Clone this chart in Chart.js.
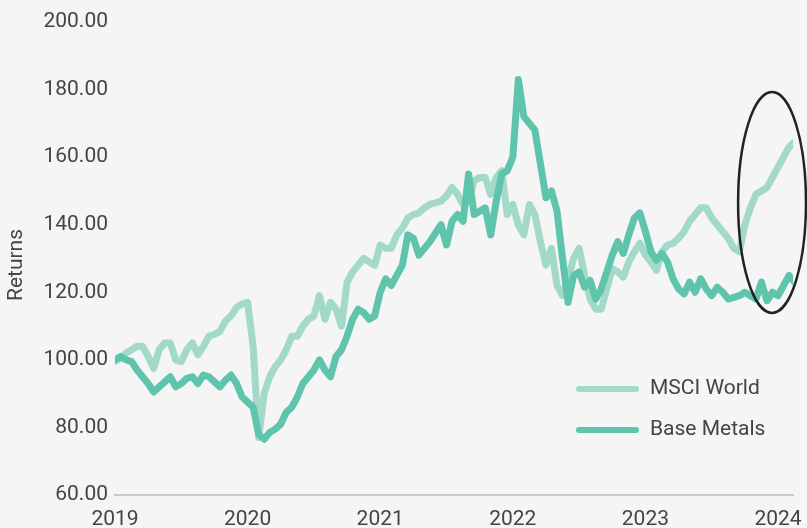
<!DOCTYPE html>
<html>
<head>
<meta charset="utf-8">
<script src="https://cdn.jsdelivr.net/npm/chart.js@4/dist/chart.umd.min.js"></script>
<style>
  html, body { margin: 0; padding: 0; background: #f5f5f5; }
  #wrap { width: 807px; height: 528px; position: relative; }
</style>
</head>
<body>
<div id="wrap"><canvas id="returnsChart"></canvas></div>
<script>
// -------------------- Data --------------------
// one reading every half month, starting January 2019
const startYear = 2019;
const pointsPerYear = 24;

const yearTicks = [2019, 2020, 2021, 2022, 2023, 2024];
const returnTicks = [60, 80, 100, 120, 140, 160, 180, 200];
const yAxisTitle = "Returns";

const msciWorld = [
  99.5, 100.5, 102, 103, 104, 104, 101, 97.5, 103, 105, 105, 100,
  99.5, 103, 105, 101.5, 104, 107, 107.5, 108.5, 111.5, 113, 115.5, 116.5,
  117, 104, 77, 90, 95, 98, 100, 103, 107, 107, 110, 112,
  113, 119, 112, 117, 115, 110, 123, 126, 128, 130, 129, 128,
  134, 133, 133, 137, 139, 142, 143, 143.5, 145, 146, 146.5, 147,
  148.5, 151, 149, 146, 147, 153, 154, 154, 149, 154, 156, 143,
  146, 140, 137, 146, 143, 135, 128, 133, 122, 119, 124, 130,
  133, 125, 118, 115, 115, 121, 127, 126, 124.5, 129, 132, 134.5,
  131, 129, 126.5, 132, 134, 134.5, 136, 138, 141, 143, 145, 145,
  142, 140, 138, 136, 133, 132, 140, 145, 149, 150, 151, 154,
  157, 160, 163, 164.5
];

const baseMetals = [
  100, 101, 100, 99.5, 97, 95, 93, 90.5, 92, 93.5, 95, 92,
  93, 94.5, 95, 93, 95.5, 95, 93.5, 92, 94, 95.5, 93, 89,
  87.5, 86, 78, 76.5, 78.5, 79.5, 81, 84.5, 86, 89, 93, 95,
  97, 100, 97, 95, 101, 103, 107, 112, 115, 114, 112, 113,
  120, 124, 122, 125, 128, 137, 136, 131, 133, 135, 137.5, 140,
  134, 141, 143, 141, 155, 143, 144, 145, 137, 147, 155, 156,
  160, 183, 172, 170, 168, 158, 148, 150, 144, 130, 117, 125,
  126, 121.5, 123.5, 118, 121, 126, 131, 135, 131.5, 137, 142, 143.5,
  138, 132, 129.5, 131.5, 129, 124, 121, 119.5, 123, 120, 124, 121,
  119, 121.5, 120, 118, 118.5, 119, 120, 119, 118, 123, 117.5, 120,
  119, 122, 125, 123
];

// highlighted zone at the end of the series (in data units)
const highlightCenter = { x: 2023.955, y: 146.6 };
const highlightRadius = { x: 0.256, y: 32.7 };

// -------------------- Helpers --------------------
function toPoints(values) {
  return values.map((v, i) => ({ x: startYear + i / pointsPerYear, y: v }));
}

const textColor = "#444444";
const fontFamily = "Roboto, 'Noto Sans', sans-serif";

// -------------------- Plugins --------------------
const backgroundPlugin = {
  id: "background",
  beforeDraw(chart) {
    const ctx = chart.ctx;
    ctx.save();
    ctx.fillStyle = "#f5f5f5";
    ctx.fillRect(0, 0, chart.width, chart.height);
    ctx.restore();
  }
};

const axisTitlePlugin = {
  id: "axisTitle",
  afterDraw(chart) {
    const ctx = chart.ctx;
    ctx.save();
    ctx.translate(17, 265);
    ctx.rotate(-Math.PI / 2);
    ctx.font = "21px " + fontFamily;
    ctx.fillStyle = textColor;
    ctx.textAlign = "center";
    ctx.textBaseline = "middle";
    ctx.fillText(yAxisTitle, 0, 0);
    ctx.restore();
  }
};

const ellipsePlugin = {
  id: "highlightEllipse",
  afterDatasetsDraw(chart) {
    const x = chart.scales.x, y = chart.scales.y;
    const cx = x.getPixelForValue(highlightCenter.x);
    const cy = y.getPixelForValue(highlightCenter.y);
    const rx = Math.abs(x.getPixelForValue(highlightCenter.x + highlightRadius.x) - cx);
    const ry = Math.abs(y.getPixelForValue(highlightCenter.y + highlightRadius.y) - cy);
    const ctx = chart.ctx;
    ctx.save();
    ctx.beginPath();
    ctx.ellipse(cx, cy, rx, ry, 0, 0, Math.PI * 2);
    ctx.strokeStyle = "#222222";
    ctx.lineWidth = 2.5;
    ctx.stroke();
    ctx.restore();
  }
};

const legendPlugin = {
  id: "insideLegend",
  afterDraw(chart) {
    const ctx = chart.ctx;
    const rows = [389, 430];
    ctx.save();
    ctx.font = "21px " + fontFamily;
    ctx.textBaseline = "middle";
    ctx.lineCap = "round";
    chart.data.datasets.forEach((ds, i) => {
      const yPos = rows[i];
      ctx.beginPath();
      ctx.moveTo(579, yPos);
      ctx.lineTo(636, yPos);
      ctx.strokeStyle = ds.borderColor;
      ctx.lineWidth = 6;
      ctx.stroke();
      ctx.fillStyle = textColor;
      ctx.fillText(ds.label, 650, yPos);
    });
    ctx.restore();
  }
};

// -------------------- Chart --------------------
new Chart(document.getElementById("returnsChart"), {
  type: "line",
  data: {
    datasets: [
      {
        label: "MSCI World",
        data: toPoints(msciWorld),
        borderColor: "#a2d9c9",
        borderWidth: 7,
        order: 1
      },
      {
        label: "Base Metals",
        data: toPoints(baseMetals),
        borderColor: "#5ec4ac",
        borderWidth: 7,
        order: 0
      }
    ]
  },
  options: {
    responsive: true,
    maintainAspectRatio: false,
    animation: false,
    layout: { padding: { top: 22, right: 14, left: 0, bottom: 0 } },
    elements: {
      point: { radius: 0 },
      line: { tension: 0, borderJoinStyle: "round", borderCapStyle: "round" }
    },
    plugins: {
      legend: { display: false },
      tooltip: { enabled: false }
    },
    scales: {
      x: {
        type: "linear",
        min: startYear,
        max: 2024.113,
        afterBuildTicks(scale) {
          scale.ticks = yearTicks.map(v => ({ value: v }));
        },
        afterFit(scale) {
          scale.height = 33;
          scale.paddingLeft = 0;
          scale.paddingRight = 0;
        },
        grid: { display: false, drawTicks: false },
        border: { display: true, color: "#cccccc", width: 2 },
        ticks: {
          padding: 12,
          maxRotation: 0,
          autoSkip: false,
          color: textColor,
          font: { family: fontFamily, size: 21 },
          callback: v => String(v)
        }
      },
      y: {
        min: 60,
        max: 200,
        afterBuildTicks(scale) {
          scale.ticks = returnTicks.map(v => ({ value: v }));
        },
        afterFit(scale) {
          scale.width = 115;
          scale.paddingTop = 0;
          scale.paddingBottom = 0;
        },
        grid: { display: false, drawTicks: false },
        border: { display: false },
        ticks: {
          padding: 7,
          color: textColor,
          font: { family: fontFamily, size: 21 },
          callback: v => v.toFixed(2)
        }
      }
    }
  },
  plugins: [backgroundPlugin, ellipsePlugin, legendPlugin, axisTitlePlugin]
});
</script>
</body>
</html>
